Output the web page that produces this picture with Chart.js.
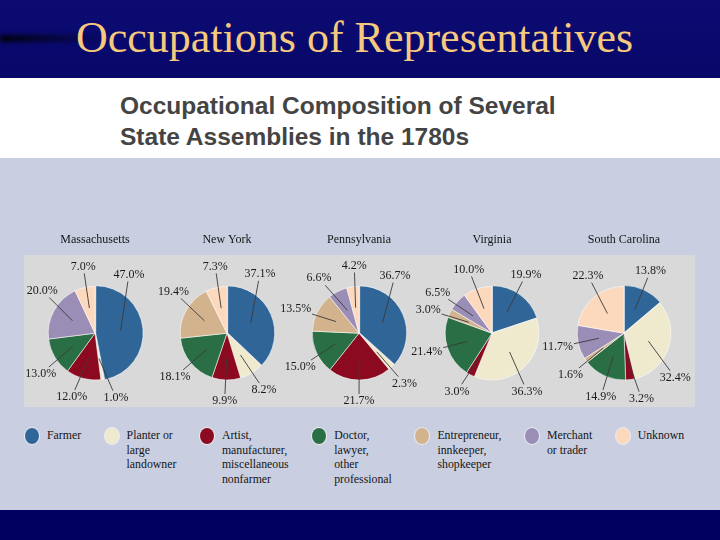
<!DOCTYPE html>
<html lang="en">
<head>
<meta charset="UTF-8">
<title>Occupations of Representatives</title>
<script src="https://cdn.jsdelivr.net/npm/chart.js@4.4.0/dist/chart.umd.min.js"></script>
<style>
  html, body { margin: 0; padding: 0; }
  body { width: 720px; height: 540px; position: relative; overflow: hidden; background: #0a0a6c; font-family: "Liberation Serif", serif; }
  #top { position: absolute; left: 0; top: 0; width: 720px; height: 78px; background: linear-gradient(180deg, #0b0b72 0%, #08086a 100%); }
  #streak { position: absolute; left: 0; top: 35px; width: 110px; height: 7px; background: linear-gradient(90deg, rgba(0,0,0,0.9), rgba(0,0,0,0)); filter: blur(2px); }
  #slideTitle { position: absolute; left: 76px; top: 13px; font-size: 44px; line-height: 50px; color: #f6c97e; white-space: nowrap; }
  #band { position: absolute; left: 0; top: 78px; width: 720px; height: 80px; background: #ffffff; }
  #heading { position: absolute; left: 120px; top: 90px; font-family: "Liberation Sans", sans-serif; font-weight: bold; font-size: 24.5px; line-height: 31px; color: #444444; white-space: nowrap; }
  #panel { position: absolute; left: 0; top: 158px; width: 720px; height: 352px; background: #c9cfe1; }
  #bottom { position: absolute; left: 0; top: 510px; width: 720px; height: 30px; background: #000060; }
  #grayBox { position: absolute; left: 24px; top: 255px; width: 671px; height: 152px; background: #d9d9d9; }
  canvas.pie { position: absolute; top: 225px; }
  #legend { position: absolute; left: 25px; top: 428px; display: flex; gap: 23.5px; }
  .item { display: flex; align-items: flex-start; }
  .dot { width: 14px; height: 16px; border-radius: 50%; margin-right: 8px; box-shadow: 0 0 0 1px rgba(255,255,255,0.6); }
  .txt { font-size: 11.8px; line-height: 14.5px; color: #151515; white-space: nowrap; }
</style>
</head>
<body>
<div id="top"></div>
<div id="streak"></div>
<div id="slideTitle">Occupations of Representatives</div>
<div id="band"></div>
<div id="heading">Occupational Composition of Several<br>State Assemblies in the 1780s</div>
<div id="panel"></div>
<div id="bottom"></div>
<div id="grayBox"></div>
<div id="legend"></div>

<script>
// data (percent of each assembly)
const states = ['Massachusetts', 'New York', 'Pennsylvania', 'Virginia', 'South Carolina'];
const occupations = [
  ['Farmer'],
  ['Planter or', 'large', 'landowner'],
  ['Artist,', 'manufacturer,', 'miscellaneous', 'nonfarmer'],
  ['Doctor,', 'lawyer,', 'other', 'professional'],
  ['Entrepreneur,', 'innkeeper,', 'shopkeeper'],
  ['Merchant', 'or trader'],
  ['Unknown']
];
const massachusetts = [47.0, 1.0, 12.0, 13.0, 0, 20.0, 7.0];
const newYork = [37.1, 8.2, 9.9, 18.1, 19.4, 0, 7.3];
const pennsylvania = [36.7, 2.3, 21.7, 15.0, 13.5, 6.6, 4.2];
const virginia = [19.9, 36.3, 3.0, 21.4, 3.0, 6.5, 10.0];
const southCarolina = [13.8, 32.4, 3.2, 14.9, 1.6, 11.7, 22.3];
const stateValues = [massachusetts, newYork, pennsylvania, virginia, southCarolina];

// styling / layout
const colors = ['#2f6597', '#efeacd', '#8b0a1f', '#2a6e46', '#d2b38d', '#9a8db6', '#fcd8bd'];
const centersX = [95, 227, 359, 492, 624];
// where each percent label sits (degrees clockwise from 12 o'clock)
const labelAngles = [
  [30, 162, 200, 233, null, 309, 350],
  [29, 147, 182, 230, 308, null, 350],
  [32, 138, 180, 240, 291, 324, 356],
  [30, 149, 211, 254, 290, 307, 340],
  [23, 131, 165, 200, 232, 258, 328]
];

const sliceLabels = {
  id: 'sliceLabels',
  afterDatasetsDraw(chart, args, opts) {
    const ctx = chart.ctx;
    const meta = chart.getDatasetMeta(0);
    const values = chart.data.datasets[0].data;
    const cx = meta.data[0].x, cy = meta.data[0].y;
    ctx.save();
    ctx.font = '12px "Liberation Serif"';
    ctx.textAlign = 'center';
    ctx.textBaseline = 'middle';
    meta.data.forEach((arc, i) => {
      const v = values[i];
      const a = opts.angles[i];
      if (!v || a == null) return;
      const r = arc.outerRadius;
      const t = a * Math.PI / 180;
      const lx = cx + Math.sin(t) * r * 1.45;
      const ly = cy - Math.cos(t) * r * 1.45;
      const mid = (arc.startAngle + arc.endAngle) / 2;
      const ix = cx + Math.cos(mid) * r * 0.55;
      const iy = cy + Math.sin(mid) * r * 0.55;
      const text = v.toFixed(1) + '%';
      const w = ctx.measureText(text).width;
      const dx = ix - lx, dy = iy - ly;
      const k = Math.min((w / 2 + 1) / Math.max(Math.abs(dx), 0.001), 7 / Math.max(Math.abs(dy), 0.001));
      ctx.strokeStyle = '#3a3a3a';
      ctx.lineWidth = 0.9;
      ctx.beginPath();
      ctx.moveTo(ix, iy);
      ctx.lineTo(lx + dx * k, ly + dy * k);
      ctx.stroke();
      ctx.fillStyle = '#1a1a1a';
      ctx.fillText(text, lx, ly);
    });
    ctx.restore();
  }
};

states.forEach((name, s) => {
  const cv = document.createElement('canvas');
  cv.className = 'pie';
  cv.width = 170; cv.height = 185;
  cv.style.left = (centersX[s] - 85) + 'px';
  cv.style.width = '170px'; cv.style.height = '185px';
  document.body.appendChild(cv);

  new Chart(cv, {
    type: 'pie',
    data: {
      labels: occupations.map(o => o.join(' ')),
      datasets: [{
        data: stateValues[s],
        backgroundColor: colors,
        borderColor: 'rgba(255,255,255,0.55)',
        borderWidth: 1,
        offset: [3, 0, 0, 0, 0, 0, 0]
      }]
    },
    options: {
      responsive: false,
      devicePixelRatio: 1,
      animation: false,
      events: [],
      layout: { padding: { top: 0, bottom: 28, left: 36, right: 36 } },
      plugins: {
        legend: { display: false },
        tooltip: { enabled: false },
        title: {
          display: true,
          text: name,
          color: '#151515',
          font: { family: 'Liberation Serif', size: 12, weight: 'normal' },
          padding: { top: 8, bottom: 37 }
        },
        sliceLabels: { angles: labelAngles[s] }
      }
    },
    plugins: [sliceLabels]
  });
});

// legend built from the same categories
const legend = document.getElementById('legend');
occupations.forEach((lines, i) => {
  const item = document.createElement('div');
  item.className = 'item';
  const dot = document.createElement('span');
  dot.className = 'dot';
  dot.style.background = colors[i];
  const txt = document.createElement('div');
  txt.className = 'txt';
  txt.innerHTML = lines.join('<br>');
  item.appendChild(dot);
  item.appendChild(txt);
  legend.appendChild(item);
});
</script>
</body>
</html>
